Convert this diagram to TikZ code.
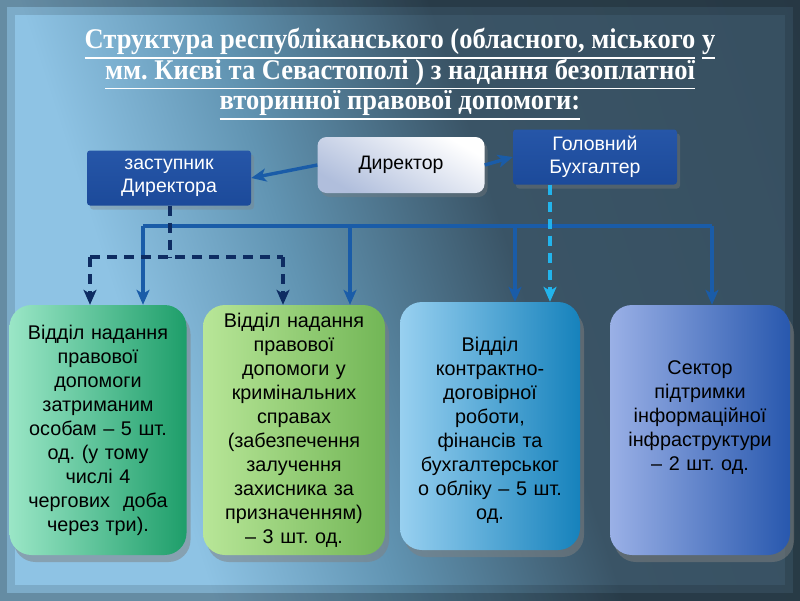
\documentclass[tikz,border=0pt]{standalone}
\usepackage{fontspec}
\setmainfont{Liberation Sans}
\newfontfamily\ttlfont{Liberation Serif}
\newcommand\ttlul[1]{\leavevmode\vtop{\hbox{#1}\kern2.2pt\hrule height 1.6pt}}
\frenchspacing
\usetikzlibrary{arrows.meta,shadows}
\definecolor{bgdark}{HTML}{3A5466}
\definecolor{bgmid}{HTML}{6194B2}
\definecolor{bglight}{HTML}{8EC3E4}
\definecolor{linkblue}{HTML}{1A5CA8}
\definecolor{subnavy}{HTML}{0E2C62}
\definecolor{acccyan}{HTML}{22B4EC}
\definecolor{chiefblue}{HTML}{2656A8}
\definecolor{chieflt}{HTML}{729EDC}
\definecolor{chiefdk}{HTML}{1C4A9A}
\definecolor{dirgrey}{HTML}{B0BEDC}
\definecolor{mintlt}{HTML}{9AE6C6}
\definecolor{mintdk}{HTML}{1E9E6A}
\definecolor{leaflt}{HTML}{B8E698}
\definecolor{leafdk}{HTML}{72B656}
\definecolor{skylt}{HTML}{98D0F0}
\definecolor{skydk}{HTML}{1682BC}
\definecolor{perilt}{HTML}{9AB0E6}
\definecolor{peridk}{HTML}{2858AE}
\pgfdeclarehorizontalshading{slidebg}{100bp}{color(0bp)=(bglight); color(32bp)=(bglight); color(44bp)=(bgmid); color(58bp)=(bgdark); color(100bp)=(bgdark!90!black)}

\tikzset{
  chief/.style={minimum width=164pt, minimum height=55pt, inner sep=0pt, align=center,
    rounded corners=3pt, font=\fontsize{19.5}{23}\selectfont, text=white,
    left color=chiefblue, middle color=chieflt, right color=chiefdk, shading angle=0,
    drop shadow={opacity=.35, shadow xshift=3pt, shadow yshift=-4pt}},
  head/.style={chief, rounded corners=9pt, text=black, left color=white, middle color=white!85!dirgrey,
    right color=dirgrey, shading angle=-30, minimum width=167pt, minimum height=56pt},
  unit/.style={minimum width=180pt, minimum height=250pt, text width=174pt, inner sep=0pt, align=center,
    rounded corners=22pt, font=\fontsize{19.8}{24}\selectfont, shading angle=45,
    drop shadow={opacity=.5, shadow xshift=4pt, shadow yshift=-7pt}},
  link/.style={draw=linkblue, line width=3.4pt, -{Stealth[length=15pt, width=13pt, inset=4pt]}},
  bus/.style={draw=linkblue, line width=3.4pt},
  sublink/.style={draw=subnavy, line width=3.4pt, dash pattern=on 10pt off 7pt},
  acclink/.style={draw=acccyan, line width=3.4pt, dash pattern=on 10pt off 7pt},
  tip/.style={-{Stealth[length=15pt, width=13pt, inset=4pt]}}
}

\begin{document}
\begin{tikzpicture}[x=1pt, y=-1pt]
  \useasboundingbox (0,0) rectangle (800,600);
  % slide background
  \shade[shading=slidebg, shading angle=18] (0,0) rectangle (800,600);
  \draw[line width=30pt, black, opacity=.12] (0,0) rectangle (800,600);
  \draw[line width=14pt, black, opacity=.18] (0,0) rectangle (800,600);

  % title
  \node[font=\ttlfont\bfseries\fontsize{28.5}{30.5}\selectfont, text=white, align=center,
    xscale=0.93, transform shape] (ttl) at (400,74)
    {\ttlul{Структура республіканського (обласного, міського} \ttlul{у}\\
     \ttlul{мм. Києві та Севастополі ) з надання безоплатної}\\
     \ttlul{вторинної правової допомоги:}};

  % top level
  \node[head] (dir) at (401,165) {Директор};
  \node[chief] (dep) at (169,178) {заступник\\Директора};
  \node[chief] (acc) at (595,157) {Головний\\Бухгалтер};

  \draw[link] (dir.west) -- (dep.east);
  \draw[link] (dir.east) -- (acc.west);

  % departments
  \node[unit, left color=mintlt, right color=mintdk, minimum width=177pt] (b1) at (98,430)
    {Відділ надання\\правової\\допомоги\\затриманим\\особам – 5 шт.\\од. (у тому\\числі 4\\чергових~ доба\\через три).};
  \node[unit, left color=leaflt, right color=leafdk, minimum width=182pt] (b2) at (294,430)
    {Відділ надання\\правової\\допомоги у\\кримінальних\\справах\\(забезпечення\\залучення\\захисника за\\призначенням)\\– 3 шт. од.};
  \node[unit, left color=skylt, right color=skydk, minimum height=248pt, text depth=163pt] (b3) at (490,426)
    {Відділ\\контрактно-\\договірної\\роботи,\\фінансів та\\бухгалтерськог\\о обліку – 5 шт.\\од.};
  \node[unit, left color=perilt, right color=peridk, text depth=125pt] (b4) at (700,430)
    {Сектор\\підтримки\\інформаційної\\інфраструктури\\– 2 шт. од.};

  % bus
  \coordinate (t1) at (143,226);
  \coordinate (t2) at (350,226);
  \coordinate (t3) at (515,226);
  \coordinate (t4) at (712,226);
  \draw[bus] (t1) -- (t4);
  \foreach \t/\b in {t1/b1, t2/b2, t3/b3, t4/b4}
    \draw[link] (\t) -- (\t |- \b.north);

  % deputy links
  \coordinate (d0) at (170,257);
  \coordinate (d1) at (90,257);
  \coordinate (d2) at (283,257);
  \draw[sublink] (d0 |- dep.south) -- (d0);
  \draw[sublink] (d1) -- (d2);
  \draw[sublink, tip] (d1) -- (d1 |- b1.north);
  \draw[sublink, tip] (d2) -- (d2 |- b2.north);

  % accountant link
  \coordinate (a0) at (550,200);
  \draw[acclink, tip] (a0 |- acc.south) -- (a0 |- b3.north);
\end{tikzpicture}
\end{document}
